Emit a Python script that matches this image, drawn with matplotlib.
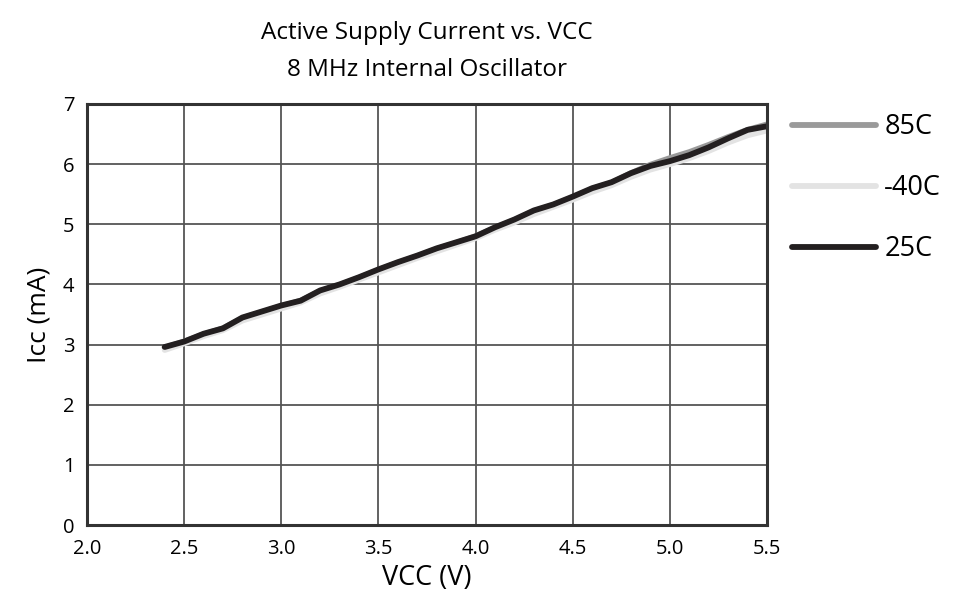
import matplotlib as mpl
mpl.use("Agg")
import matplotlib.pyplot as plt

# supply voltage sweep (V)
vcc = [2.4, 2.5, 2.6, 2.7, 2.8, 2.9, 3.0, 3.1, 3.2, 3.3, 3.4, 3.5, 3.6, 3.7, 3.8, 3.9,
       4.0, 4.1, 4.2, 4.3, 4.4, 4.5, 4.6, 4.7, 4.8, 4.9, 5.0, 5.1, 5.2, 5.3, 5.4, 5.5]

# active supply current (mA) per temperature
icc_85 = [2.95, 3.05, 3.17, 3.27, 3.44, 3.54, 3.64, 3.73, 3.89, 3.99, 4.11, 4.24, 4.36, 4.47, 4.59, 4.69,
          4.80, 4.94, 5.07, 5.22, 5.32, 5.45, 5.59, 5.69, 5.85, 5.99, 6.10, 6.20, 6.32, 6.45, 6.57, 6.66]
icc_m40 = [2.91, 3.02, 3.14, 3.24, 3.40, 3.50, 3.60, 3.70, 3.85, 3.96, 4.08, 4.20, 4.32, 4.44, 4.55, 4.66,
           4.77, 4.91, 5.03, 5.17, 5.29, 5.41, 5.54, 5.65, 5.79, 5.91, 6.00, 6.10, 6.22, 6.36, 6.48, 6.56]
icc_25 = [2.96, 3.05, 3.18, 3.27, 3.45, 3.55, 3.65, 3.73, 3.90, 4.00, 4.12, 4.25, 4.37, 4.48, 4.60, 4.70,
          4.80, 4.95, 5.08, 5.23, 5.33, 5.46, 5.60, 5.70, 5.85, 5.97, 6.05, 6.15, 6.28, 6.43, 6.57, 6.63]

series = [("85C", icc_85, "#9a9a9a"),
          ("-40C", icc_m40, "#e3e3e3"),
          ("25C", icc_25, "#231f20")]

xticks = [2.0, 2.5, 3.0, 3.5, 4.0, 4.5, 5.0, 5.5]
yticks = [0, 1, 2, 3, 4, 5, 6, 7]

plt.rcParams["font.family"] = ["Open Sans", "DejaVu Sans"]

fig = plt.figure(figsize=(9.59, 5.97), dpi=100)
ax = fig.add_axes([0.0907, 0.1206, 0.7091, 0.7052])

for name, vals, col in series:
  ax.plot(vcc, vals, color=col, lw=4.2, solid_capstyle="round",
          solid_joinstyle="round", label=name)

ax.set_xlim(2.0, 5.5)
ax.set_ylim(0, 7)
ax.set_xticks(xticks)
ax.set_xticklabels(["%.1f" % t for t in xticks])
ax.set_yticks(yticks)
ax.tick_params(length=0, labelsize=14.5)
ax.tick_params(axis="x", pad=10)
ax.tick_params(axis="y", pad=9)
ax.grid(True, color="#555555", lw=1.3)
ax.set_axisbelow(True)
for sp in ax.spines.values():
  sp.set_color("#333333")
  sp.set_linewidth(2.2)

ax.set_xlabel("VCC (V)", fontsize=19.5, labelpad=4)
ax.set_ylabel("Icc (mA)", fontsize=19, labelpad=8)

fig.text(0.4453, 0.945, "Active Supply Current vs. VCC", ha="center", va="center", fontsize=17.5)
fig.text(0.4453, 0.882, "8 MHz Internal Oscillator", ha="center", va="center", fontsize=17.5)

ax.legend(loc="upper left", bbox_to_anchor=(1.001, 1.036), frameon=False,
          fontsize=19.5, handlelength=3.1, handletextpad=0.3, labelspacing=1.22)

fig.savefig("out.png", dpi=100)
